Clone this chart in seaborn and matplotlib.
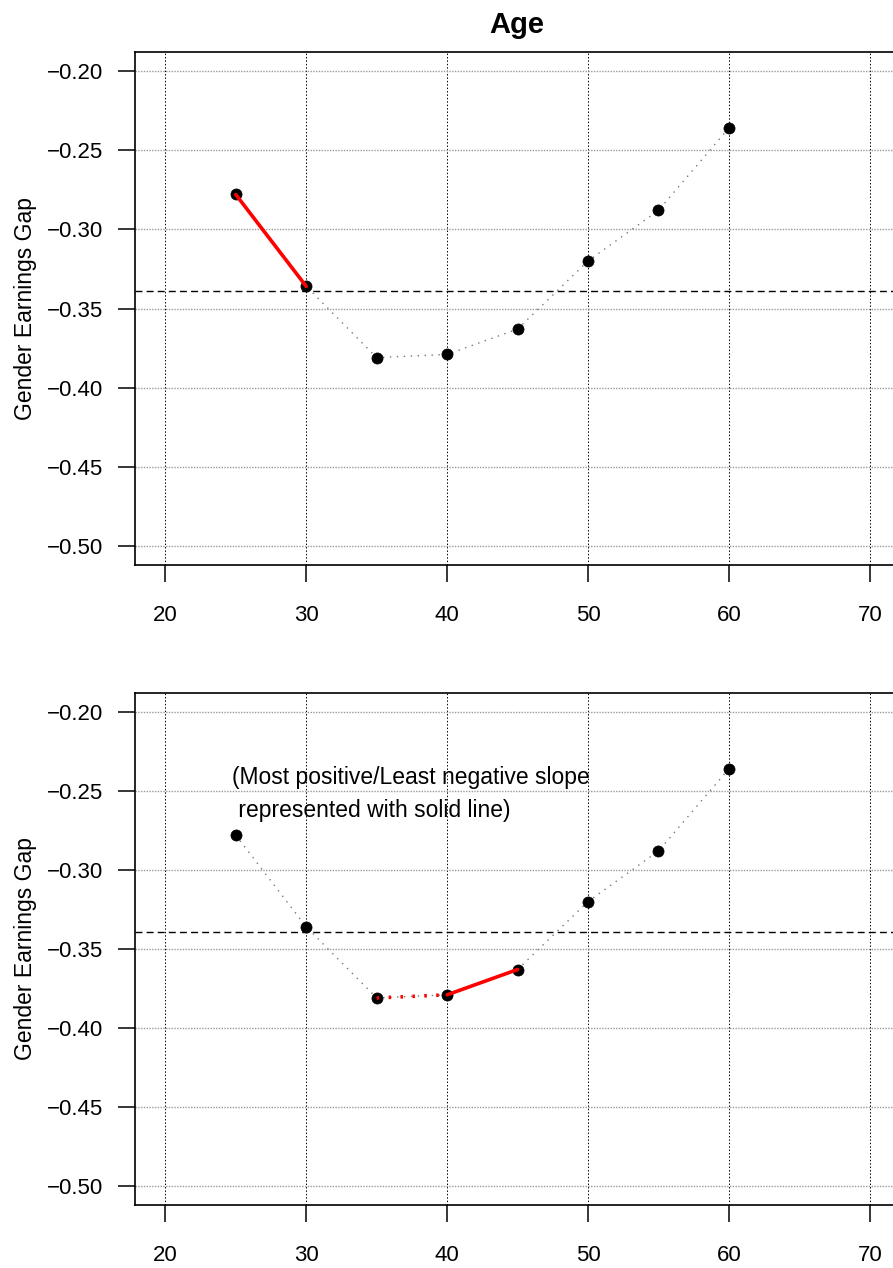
import matplotlib
matplotlib.use("Agg")
import matplotlib.pyplot as plt
import seaborn as sns
import pandas as pd

# ---- data ----
ages = [25, 30, 35, 40, 45, 50, 55, 60]
gap = [-0.278, -0.336, -0.381, -0.379, -0.363, -0.320, -0.288, -0.236]
mean_gap = -0.339
x_ticks = [20, 30, 40, 50, 60, 70]
y_ticks = [-0.50, -0.45, -0.40, -0.35, -0.30, -0.25, -0.20]
top_solid_ages = [25, 30]
bottom_dotted_ages = [35, 40]
bottom_solid_ages = [40, 45]
title = "Age"
ylabel = "Gender Earnings Gap"
note_line1 = "(Most positive/Least negative slope"
note_line2 = " represented with solid line)"

df = pd.DataFrame({"age": ages, "gap": gap})

sns.set_theme(style="white")
plt.rcParams['font.family'] = ['Liberation Sans', 'DejaVu Sans']
plt.rcParams['text.color'] = 'black'

fig = plt.figure(figsize=(8.93, 12.68), dpi=100)
ax_top = fig.add_axes([0.1512, 0.5544, 0.8544, 0.4046])
ax_bot = fig.add_axes([0.1512, 0.0497, 0.8544, 0.4038])


def seg(ages_sel):
    return df[df["age"].isin(ages_sel)]


def finish_labels(ax):
    ax.set_xlabel("")
    ax.set_ylabel(ylabel, fontsize=16.5, color="black", va="center")
    ax.yaxis.set_label_coords(-0.144, 0.5)


def base_panel(ax):
    for xv in x_ticks:
        ax.axvline(xv, color="black", lw=0.7, ls=(0, (1.5, 2)), zorder=1)
    for yv in y_ticks:
        ax.axhline(yv, color="#9a9a9a", lw=1.0, ls=(0, (1, 1)), zorder=1)
    ax.axhline(mean_gap, color="black", lw=1.0, ls=(0, (5, 3)), zorder=2)
    sns.lineplot(data=df, x="age", y="gap", ax=ax, color="#777777",
                 lw=1.0, ls=(0, (1, 4)), zorder=3)
    sns.scatterplot(data=df, x="age", y="gap", ax=ax, color="black",
                    s=64, edgecolor="black", linewidth=0.5, zorder=4)
    ax.set_xlim(17.85, 72.0)
    ax.set_ylim(-0.512, -0.188)
    ax.set_xticks(x_ticks)
    ax.set_xticklabels([str(v) for v in x_ticks])
    ax.set_yticks(y_ticks)
    ax.set_yticklabels([f"{v:.2f}".replace("-", "\u2212") for v in y_ticks])
    ax.tick_params(axis="both", which="major", bottom=True, left=True,
                   top=False, right=False, direction="out", length=12,
                   width=1.1, color="black", labelsize=16, labelcolor="black")
    ax.tick_params(axis="x", pad=17)
    ax.tick_params(axis="y", pad=11)
    finish_labels(ax)
    for sp in ax.spines.values():
        sp.set_visible(True)
        sp.set_color("black")
        sp.set_linewidth(1.2)


base_panel(ax_top)
base_panel(ax_bot)

# top: red solid segment
sns.lineplot(data=seg(top_solid_ages), x="age", y="gap", ax=ax_top,
             color="red", lw=2.6, zorder=5)
finish_labels(ax_top)
ax_top.set_title(title, fontsize=21, fontweight="bold", pad=14, color="black")

# bottom: red dotted and solid segments
sns.lineplot(data=seg(bottom_dotted_ages), x="age", y="gap", ax=ax_bot,
             color="red", lw=2.6, ls=(0, (0.7, 2.6)), zorder=5)
sns.lineplot(data=seg(bottom_solid_ages), x="age", y="gap", ax=ax_bot,
             color="red", lw=2.6, zorder=5)
finish_labels(ax_bot)
ax_bot.text(24.75, -0.2456, note_line1, fontsize=16.5, ha="left",
            va="baseline", color="black", zorder=6)
ax_bot.text(24.75, -0.2665, note_line2, fontsize=16.5, ha="left",
            va="baseline", color="black", zorder=6)

fig.savefig("out.png", dpi=100, facecolor="white")
